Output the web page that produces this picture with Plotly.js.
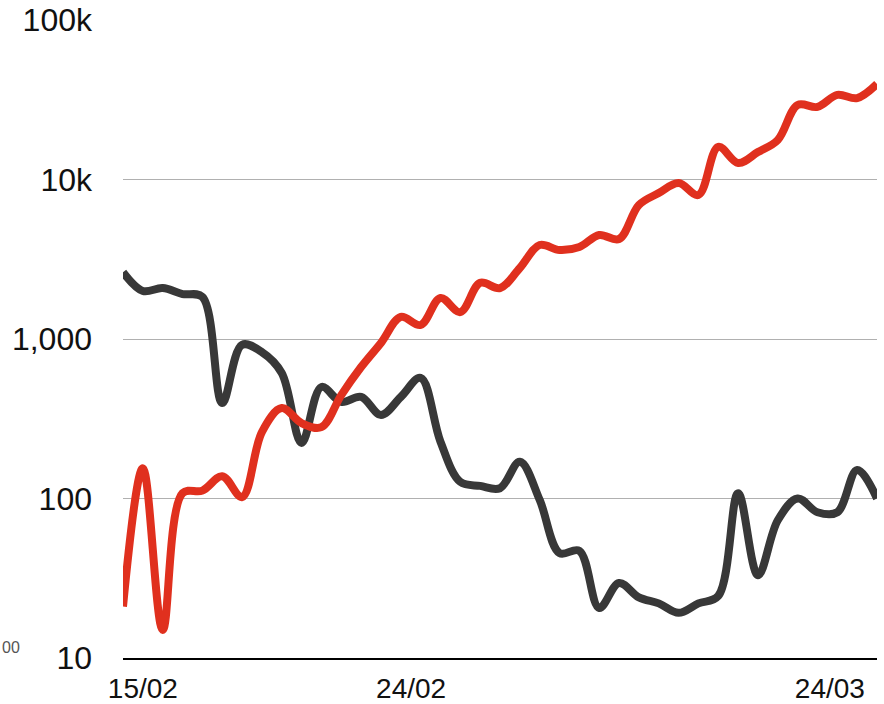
<!DOCTYPE html>
<html>
<head>
<meta charset="utf-8">
<script src="https://cdn.plot.ly/plotly-3.0.1.min.js"></script>
<style>html,body{margin:0;padding:0;background:#fff;}#chart{width:884px;height:704px;}</style>
</head>
<body>
<div id="chart"></div>
<script>
const dates = [
  "2020-02-15","2020-02-16","2020-02-17","2020-02-18","2020-02-19","2020-02-20","2020-02-21",
  "2020-02-22","2020-02-23","2020-02-24","2020-02-25","2020-02-26","2020-02-27","2020-02-28",
  "2020-02-29","2020-03-01","2020-03-02","2020-03-03","2020-03-04","2020-03-05","2020-03-06",
  "2020-03-07","2020-03-08","2020-03-09","2020-03-10","2020-03-11","2020-03-12","2020-03-13",
  "2020-03-14","2020-03-15","2020-03-16","2020-03-17","2020-03-18","2020-03-19","2020-03-20",
  "2020-03-21","2020-03-22","2020-03-23","2020-03-24"
];
const redSeries = [
  21, 155, 15, 108, 112, 138, 102, 261, 369, 297,
  280, 445, 667, 945, 1375, 1224, 1807, 1475, 2250, 2087,
  2786, 3884, 3614, 3777, 4488, 4237, 6920, 8220, 9506, 8000,
  16000, 12690, 14860, 17700, 29300, 28500, 33900, 32400, 39700
];
const darkSeries = [
  2620, 2000, 2087, 1914, 1834, 397, 920, 828, 613, 223,
  500, 403, 433, 334, 433, 570, 227, 127, 120, 116,
  170, 98, 45.5, 47, 20.6, 29.5, 24, 22, 19.2, 22,
  24.5, 108, 33, 73, 100, 82, 82, 151, 100
];
const yTickVals = [10, 100, 1000, 10000, 100000];
const yTickText = ["10", "100", "1,000", "10k", "100k"];
const xTickVals = ["2020-02-16", "2020-02-29 12:30", "2020-03-21 15:00"];
const xTickText = ["15/02", "24/02", "24/03"];

const traces = [
  {x: dates, y: darkSeries, type: "scatter", mode: "lines",
   line: {color: "#383838", width: 8, shape: "spline", smoothing: 1}, hoverinfo: "skip"},
  {x: dates, y: redSeries, type: "scatter", mode: "lines",
   line: {color: "#e0301e", width: 8, shape: "spline", smoothing: 1}, hoverinfo: "skip"}
];

const layout = {
  width: 884, height: 704,
  margin: {l: 123, r: 7, t: 20, b: 46},
  paper_bgcolor: "#fff", plot_bgcolor: "#fff",
  showlegend: false,
  font: {family: "Liberation Sans, Arial, sans-serif", color: "#000"},
  xaxis: {
    type: "date",
    range: ["2020-02-15", "2020-03-24"],
    tickvals: xTickVals, ticktext: xTickText,
    showgrid: false, zeroline: false,
    showline: true, linecolor: "#000", linewidth: 2,
    ticks: "", ticklabelstandoff: 4,
    tickfont: {size: 28, color: "#111"}
  },
  yaxis: {
    type: "log",
    range: [1, 5],
    tickvals: yTickVals, ticktext: yTickText,
    showgrid: true, gridcolor: "#b0b0b0", gridwidth: 1,
    zeroline: false, showline: false,
    ticks: "", ticklabelstandoff: 30,
    tickfont: {size: 32, color: "#111"}
  },
  annotations: [
    {xref: "paper", yref: "paper", x: -0.1631, y: 0.0157, xanchor: "left", yanchor: "middle",
     text: "00", showarrow: false, font: {size: 16, color: "#555"}}
  ]
};

Plotly.newPlot("chart", traces, layout, {staticPlot: true, displayModeBar: false});
</script>
</body>
</html>
